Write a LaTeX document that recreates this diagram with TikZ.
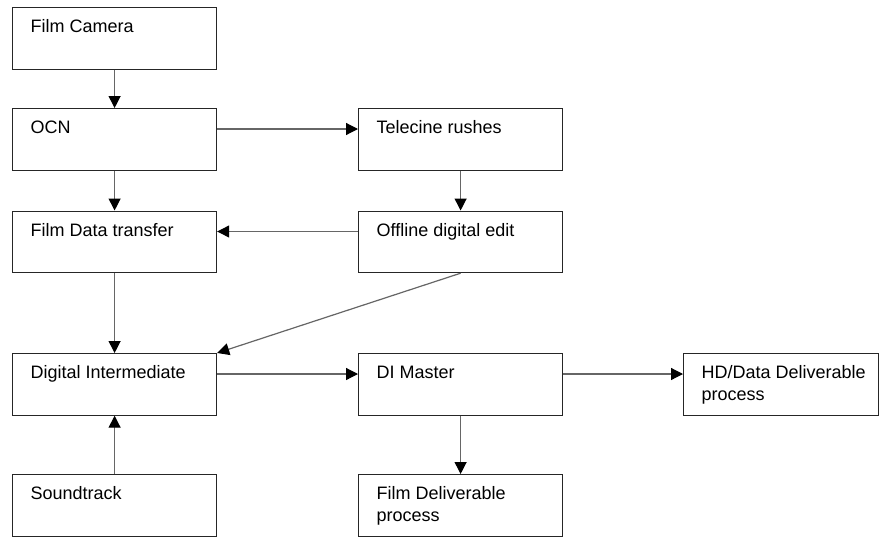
\documentclass[tikz,border=0pt]{standalone}
\usepackage{fontspec}
\setmainfont{Liberation Sans}
\usetikzlibrary{arrows.meta,calc}

% text block anchored at the top-left of each box
\newcommand\boxlabel[2][204pt]{%
  \vbox to 61.5pt{\hsize=#1\leftskip=18pt\rightskip=0pt plus 1fil
    \parindent=0pt\fontsize{18}{22}\selectfont
    \noindent\rule{0pt}{25pt}#2\par\vfil}}

\tikzset{
  stagebox/.style={draw=black!85, line width=1.2pt, inner sep=0pt, anchor=north west},
  flow/.style={draw=black!60, line width=1.2pt,
    -{Triangle[length=12pt,width=12pt,fill=black,color=black]}},
}

\begin{document}
\begin{tikzpicture}[x=1pt,y=-1pt]
  \useasboundingbox (0,0) rectangle (880,536);
  \fill[white] (0,0) rectangle (880,536);

  % first column
  \node[stagebox] (cam) at (12,7)     {\boxlabel{Film Camera}};
  \node[stagebox] (ocn) at (12,108)   {\boxlabel{OCN}};
  \node[stagebox] (fdt) at (12,210.5) {\boxlabel{Film Data transfer}};
  \node[stagebox] (di)  at (12,353)   {\boxlabel{Digital Intermediate}};
  \node[stagebox] (snd) at (12,474)   {\boxlabel{Soundtrack}};

  % second column
  \node[stagebox] (tel) at (358,108)   {\boxlabel{Telecine rushes}};
  \node[stagebox] (off) at (358,210.5) {\boxlabel{Offline digital edit}};
  \node[stagebox] (dim) at (358,353)   {\boxlabel{DI Master}};
  \node[stagebox] (fdp) at (358,474)   {\boxlabel{Film Deliverable\\process}};

  % third column
  \node[stagebox] (hdp) at (683,353)   {\boxlabel[195pt]{HD/Data Deliverable\\process}};

  % vertical links
  \draw[flow] (cam.south) -- (ocn.north);
  \draw[flow] (ocn.south) -- (fdt.north);
  \draw[flow] (fdt.south) -- (di.north);
  \draw[flow] (snd.north) -- (di.south);
  \draw[flow] (tel.south) -- (off.north);
  \draw[flow] (dim.south) -- (fdp.north);

  % horizontal links, 21pt below the top edges
  \draw[flow] ($(ocn.north east)+(0,21)$) -- ($(tel.north west)+(0,21)$);
  \draw[flow] ($(off.north west)+(0,21)$) -- ($(fdt.north east)+(0,21)$);
  \draw[flow] ($(di.north east)+(0,21)$)  -- ($(dim.north west)+(0,21)$);
  \draw[flow] ($(dim.north east)+(0,21)$) -- ($(hdp.north west)+(0,21)$);

  % edit decisions feeding the intermediate
  \draw[flow] (off.south) -- (di.north east);
\end{tikzpicture}
\end{document}
